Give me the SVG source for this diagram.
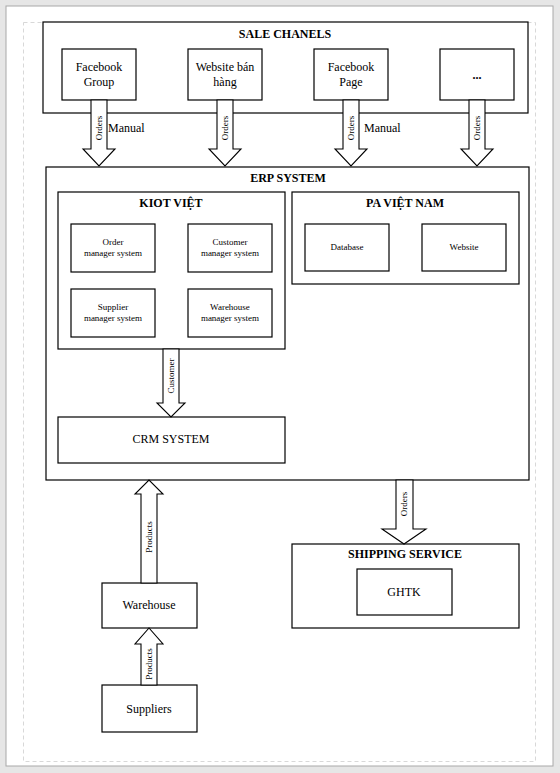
<svg xmlns="http://www.w3.org/2000/svg" width="560" height="773" viewBox="0 0 560 773" font-family="'Liberation Serif', 'Times New Roman', serif">
<defs>
<style>
.box{fill:#fff;stroke:#000;stroke-width:1.2}
.ar{fill:#fff;stroke:#000;stroke-width:1.1;stroke-linejoin:miter}
.t,.n,.s,.lbl,.m{font-family:'Liberation Serif','Times New Roman',serif;fill:#000}
.t{font-size:12px;font-weight:bold;text-anchor:middle}
.n{font-size:12px;text-anchor:middle}
.m{font-size:12px}
.s{font-size:9px;text-anchor:middle}
.lbl{font-size:9px;text-anchor:middle}
</style>
</defs>
<rect x="0" y="0" width="560" height="773" fill="#e6e6e6"/>
<rect x="6" y="6" width="547" height="760" fill="#fff" stroke="#a8a8a8" stroke-width="1"/>
<rect x="23.5" y="22.5" width="512" height="739" fill="none" stroke="#d8d8d8" stroke-width="1" stroke-dasharray="4,3"/>

<g id="sale-chanels">
<rect class="box" x="43" y="22" width="485" height="91"/>
<text class="t" x="285" y="38">SALE CHANELS</text>
</g>
<g id="facebook-group">
<rect class="box" x="62" y="49" width="74" height="51"/>
<text class="n" x="99" y="71">Facebook</text>
<text class="n" x="99" y="86">Group</text>
</g>
<g id="website-ban-hang">
<rect class="box" x="188" y="49" width="74" height="51"/>
<text class="n" x="225" y="71">Website bán</text>
<text class="n" x="225" y="86">hàng</text>
</g>
<g id="facebook-page">
<rect class="box" x="314" y="49" width="74" height="51"/>
<text class="n" x="351" y="71">Facebook</text>
<text class="n" x="351" y="86">Page</text>
</g>
<g id="more">
<rect class="box" x="440" y="49" width="74" height="51"/>
<text class="n" x="477" y="79" font-weight="bold">...</text>
</g>

<g id="erp-system">
<rect class="box" x="46" y="167" width="483" height="313"/>
<text class="t" x="288" y="182">ERP SYSTEM</text>
</g>
<g id="kiot-viet">
<rect class="box" x="58" y="192" width="227" height="157"/>
<text class="t" x="171" y="207">KIOT VIỆT</text>
</g>
<g id="order-manager">
<rect class="box" x="71" y="224" width="84" height="48"/>
<text class="s" x="113" y="245">Order</text>
<text class="s" x="113" y="256">manager system</text>
</g>
<g id="customer-manager">
<rect class="box" x="188" y="224" width="84" height="48"/>
<text class="s" x="230" y="245">Customer</text>
<text class="s" x="230" y="256">manager system</text>
</g>
<g id="supplier-manager">
<rect class="box" x="71" y="289" width="84" height="48"/>
<text class="s" x="113" y="310">Supplier</text>
<text class="s" x="113" y="321">manager system</text>
</g>
<g id="warehouse-manager">
<rect class="box" x="188" y="289" width="84" height="48"/>
<text class="s" x="230" y="310">Warehouse</text>
<text class="s" x="230" y="321">manager system</text>
</g>
<g id="pa-viet-nam">
<rect class="box" x="292" y="192" width="227" height="92"/>
<text class="t" x="405" y="207">PA VIỆT NAM</text>
</g>
<g id="database">
<rect class="box" x="305" y="224" width="84" height="47"/>
<text class="s" x="347" y="250">Database</text>
</g>
<g id="website">
<rect class="box" x="422" y="224" width="84" height="47"/>
<text class="s" x="464" y="250">Website</text>
</g>
<g id="crm-system">
<rect class="box" x="58" y="417" width="227" height="46"/>
<text class="n" x="171" y="443" font-size="11">CRM SYSTEM</text>
</g>

<g id="shipping-service">
<rect class="box" x="292" y="544" width="227" height="84"/>
<text class="t" x="405" y="558">SHIPPING SERVICE</text>
</g>
<g id="ghtk">
<rect class="box" x="357" y="569" width="95" height="46"/>
<text class="n" x="404" y="596" font-size="11">GHTK</text>
</g>
<g id="warehouse">
<rect class="box" x="102" y="583" width="95" height="45"/>
<text class="n" x="149" y="609">Warehouse</text>
</g>
<g id="suppliers">
<rect class="box" x="102" y="685" width="95" height="47"/>
<text class="n" x="149" y="713">Suppliers</text>
</g>

<g id="connectors">
<path class="ar" d="M91,100 V149 H83 L99,166 L115,149 H107 V100 Z"/>
<text class="lbl" transform="translate(102,128) rotate(-90)">Orders</text>
<text class="m" x="108" y="132">Manual</text>

<path class="ar" d="M217,100 V149 H209 L225,166 L241,149 H233 V100 Z"/>
<text class="lbl" transform="translate(228,128) rotate(-90)">Orders</text>

<path class="ar" d="M343,100 V149 H335 L351,166 L367,149 H359 V100 Z"/>
<text class="lbl" transform="translate(354,128) rotate(-90)">Orders</text>
<text class="m" x="364" y="132">Manual</text>

<path class="ar" d="M469,100 V149 H461 L477,166 L493,149 H485 V100 Z"/>
<text class="lbl" transform="translate(480,128) rotate(-90)">Orders</text>

<path class="ar" d="M163,349 V403 H157 L171,417 L185,403 H179 V349 Z"/>
<text class="lbl" transform="translate(174,376) rotate(-90)">Customer</text>

<path class="ar" d="M396,480 V529 H382 L404,544 L426,529 H413 V480 Z"/>
<text class="lbl" transform="translate(407,504) rotate(-90)">Orders</text>

<path class="ar" d="M141,583 V494 H135 L149,480 L163,494 H157 V583 Z"/>
<text class="lbl" transform="translate(152,537) rotate(-90)">Products</text>

<path class="ar" d="M141,685 V644 H135 L149,628 L163,644 H157 V685 Z"/>
<text class="lbl" transform="translate(152,664) rotate(-90)">Products</text>
</g>
</svg>
